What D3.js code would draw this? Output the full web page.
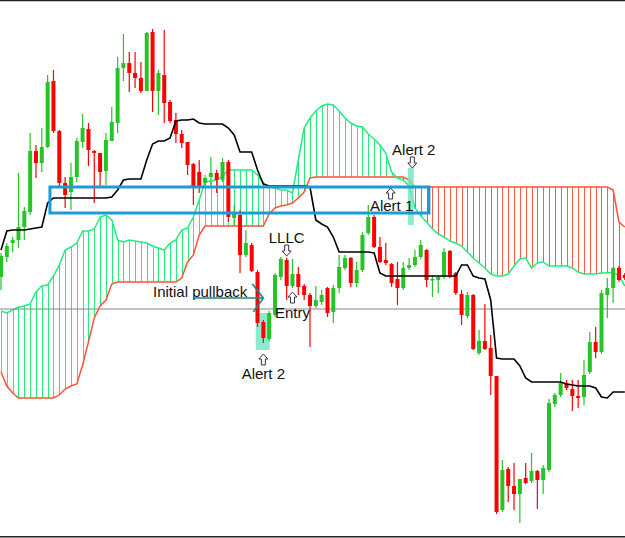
<!DOCTYPE html>
<html>
<head>
<meta charset="utf-8">
<script src="https://cdn.jsdelivr.net/npm/d3@7"></script>
<style>
  body { margin: 0; background: #fff; }
  svg { display: block; }
</style>
</head>
<body>
<div id="myplot"></div>
<script>
// price in points, one entry per bar
var opens = [263,283,297,300,313,328,389,377,393,459, 409,357,348,363,398,411,389,387,369,399,
  417,472,477,467,462,449,508,449,465,438, 420,406,398,376,368,357,363,367,360,378,
  322,325,285,295,268,218,201,225,263,280, 254,266,254,245,234,238,252,228,252,272,
  282,257,270,307,323,293,280,276,261,252, 272,275,283,290,260,260,263,289,267,246,
  224,245,187,199,192,164,30,71,54,46, 62,59,69,60,70,136,145,157,151,144,
  143,168,198,188,245,252,272,265];
var highs = [287,297,303,367,333,407,395,412,465,470, 410,363,377,402,426,417,390,387,407,433,
  483,506,488,488,478,508,511,470,510,440, 427,410,398,377,380,365,383,370,382,380,
  335,330,310,297,270,220,229,267,283,282, 281,273,256,247,254,250,253,255,285,285,
  283,278,308,335,325,303,297,277,278,278, 282,290,300,291,265,264,292,290,268,250,
  248,246,210,236,205,164,80,73,77,61, 77,87,70,75,141,147,167,160,160,160,
  180,208,213,250,262,273,274,267];
var lows = [250,278,288,292,300,325,362,368,392,407, 352,332,330,358,392,374,337,352,355,399,
  407,459,448,452,447,449,428,425,417,417, 397,392,365,335,347,353,355,347,358,318,
  315,267,283,268,213,197,199,223,260,240, 252,245,240,193,232,235,223,217,247,270,
  253,253,268,305,292,277,275,253,235,250, 270,273,281,253,243,247,261,262,245,215,
  222,190,185,190,145,26,28,38,30,17, 56,57,31,46,68,133,143,150,129,132,
  135,166,182,186,222,237,258,260];
var closes = [284,294,300,313,329,389,377,393,458,409, 357,345,363,399,412,390,387,368,400,418,
  472,477,467,462,449,507,449,467,437,419, 406,397,375,353,353,362,367,360,378,323,
  328,285,297,269,217,202,227,265,281,254, 266,253,245,234,240,245,227,252,273,282,
  257,270,305,323,293,278,277,257,252,272, 275,283,295,260,261,263,288,263,247,225,
  245,191,199,191,164,28,70,54,46,61, 57,69,60,72,137,145,157,152,144,142,
  165,198,188,247,252,272,260,262];

var spanA = [229,227,230,233,234,236,248,254,255,264, 275,290,293,297,309,309,311,323,325,320,
  300,298,300,299,298,297,294,292,290,297, 300,310,312,323,340,358,359,360,364,370,
  370,370,370,370,365,357,353,352,350,350, 347,380,412,422,429,434,436,435,429,422,
  417,414,413,406,401,395,387,368,362,360, 354,332,324,318,311,306,303,299,297,294,
  288,282,277,272,266,264,264,266,274,281, 282,272,277,278,274,274,274,274,272,268,
  266,266,266,267,267,268,264,254];
var spanB = [168,154,147,142,142,142,142,142,142,142, 145,151,154,156,175,198,222,234,240,256,
  258,258,258,258,258,258,258,258,258,258, 258,262,278,285,305,314,314,314,314,314,
  314,314,314,314,314,314,326,332,334,335, 337,342,348,362,363,363,363,363,363,363,
  363,363,363,363,363,363,363,363,363,363, 360,353,353,353,353,353,353,353,353,353,
  353,353,353,353,353,353,353,353,353,353, 353,353,353,353,353,353,353,353,353,353,
  353,353,353,353,353,350,318,313];
var kijun = [290,309,310,310,310,311,312,313,337,342, 342,342,342,342,342,342,342,342,342,343,
  350,360,361,361,361,380,396,399,399,402, 419,420,420,421,417,416,416,416,416,412,
  405,388,388,388,370,356,354,354,354,354, 354,354,354,353,320,316,313,303,288,288,
  288,288,288,288,287,267,264,264,264,264, 264,264,264,264,264,264,264,264,264,275,
  275,264,262,261,240,182,181,181,181,174, 162,158,158,158,158,158,158,156,155,154,
  154,154,152,143,142,148,148,148];

var level = 231;
// zone: bars 8.4 - 73.4, price 327 - 353
var zone = [8.4, 73.4, 327, 353];
// highlighted bars [from, to, low, high]
var marks = [[43.7, 46.1, 190, 227], [69.8, 70.8, 315, 372]];

var W = 625, H = 538;
var svg = d3.select('div#myplot')
  .append('svg')
  .attr('width', W)
  .attr('height', H);

var x = d3.scaleLinear().domain([0, 107]).range([1, 624.8]);
var y = d3.scaleLinear().domain([0, 540]).range([540, 0]);

// frame
svg.append("line").attr("x1", 0).attr("x2", W).attr("y1", 0.5).attr("y2", 0.5)
  .attr("stroke", "#222").attr("stroke-width", 1.5);
svg.append("line").attr("x1", 0).attr("x2", W).attr("y1", 536.8).attr("y2", 536.8)
  .attr("stroke", "#222").attr("stroke-width", 1.5);

// cloud hatch
svg.append("g").attr("id", "hatch")
  .selectAll("line")
  .data(spanA)
  .enter()
  .append("line")
  .attr("x1", (d, i) => Math.round(x(i)) + 0.5).attr("x2", (d, i) => Math.round(x(i)) + 0.5)
  .attr("y1", d => y(d))
  .attr("y2", (d, i) => y(spanB[i]))
  .attr("stroke", (d, i) => d >= spanB[i] ? "#27ec7c" : "#ff5a40")
  .attr("stroke-width", 1);

var line = d3.line().x((d, i) => x(i)).y(d => y(d));

svg.append("path").datum(spanB)
  .attr("d", line).attr("fill", "none")
  .attr("stroke", "#ff5236").attr("stroke-width", 1.5);
svg.append("path").datum(spanA)
  .attr("d", line).attr("fill", "none")
  .attr("stroke", "#22ec7e").attr("stroke-width", 1.5);

// highlights
svg.append("g").selectAll("rect")
  .data(marks)
  .enter()
  .append("rect")
  .attr("x", d => x(d[0]))
  .attr("y", d => y(d[3]))
  .attr("width", d => x(d[1]) - x(d[0]))
  .attr("height", d => y(d[2]) - y(d[3]))
  .attr("fill", "#6fe6c2")
  .attr("opacity", 0.8);

// level line
svg.append("line")
  .attr("x1", 0).attr("x2", W)
  .attr("y1", y(level)).attr("y2", y(level))
  .attr("stroke", "#7d8a92").attr("stroke-width", 1);

// candles
var bars = svg.append("g").attr("id", "candles")
  .selectAll("g")
  .data(opens)
  .enter()
  .append("g");

bars.append("line")
  .attr("x1", (d, i) => x(i)).attr("x2", (d, i) => x(i))
  .attr("y1", (d, i) => y(highs[i]))
  .attr("y2", (d, i) => y(lows[i]))
  .attr("stroke", (d, i) => closes[i] >= d ? "#26c426" : "#ff0000")
  .attr("stroke-width", 1.2);

bars.append("rect")
  .attr("x", (d, i) => x(i) - 2)
  .attr("width", 4)
  .attr("y", (d, i) => y(Math.max(d, closes[i])))
  .attr("height", (d, i) => Math.max(1.5, Math.abs(y(d) - y(closes[i]))))
  .attr("fill", (d, i) => closes[i] >= d ? "#26c426" : "#ff0000");

// kijun
svg.append("path").datum(kijun)
  .attr("d", line).attr("fill", "none")
  .attr("stroke", "#000").attr("stroke-width", 1.6);

// zone box
svg.append("rect")
  .attr("x", x(zone[0])).attr("y", y(zone[3]))
  .attr("width", x(zone[1]) - x(zone[0]))
  .attr("height", y(zone[2]) - y(zone[3]))
  .attr("fill", "none")
  .attr("stroke", "#1c9ad8")
  .attr("stroke-width", 3);

// annotations
function arrow(cx, top, down) {
  var p = down
    ? [[cx - 2, top], [cx + 2, top], [cx + 2, top + 6], [cx + 4.5, top + 6], [cx, top + 11], [cx - 4.5, top + 6], [cx - 2, top + 6]]
    : [[cx, top], [cx + 4.5, top + 5], [cx + 2, top + 5], [cx + 2, top + 11], [cx - 2, top + 11], [cx - 2, top + 5], [cx - 4.5, top + 5]];
  svg.append("path")
    .attr("d", "M" + p.join("L") + "Z")
    .attr("fill", "#fff")
    .attr("stroke", "#3a2f45")
    .attr("stroke-width", 1);
}

var notes = [
  {t: "Alert 2", i: 70.8, v: 385},
  {t: "Alert 1", i: 67, v: 329},
  {t: "LLLC", i: 49, v: 297},
  {t: "Entry", i: 50, v: 222},
  {t: "Alert 2", i: 45, v: 161}
];
svg.append("g").selectAll("text")
  .data(notes)
  .enter()
  .append("text")
  .attr("x", d => x(d.i))
  .attr("y", d => y(d.v))
  .attr("text-anchor", "middle")
  .attr("font-family", "Liberation Sans, Arial, sans-serif")
  .attr("font-size", "15")
  .attr("fill", "#111")
  .text(d => d.t);

arrow(x(70.3) + 1.5, y(383), true);
arrow(x(67) - 1, y(352), false);
arrow(x(49), y(295), true);
arrow(x(50), y(248), false);
arrow(x(45), y(186), false);

svg.append("text")
  .attr("x", 153).attr("y", y(243))
  .attr("font-family", "Liberation Sans, Arial, sans-serif")
  .attr("font-size", "15")
  .attr("fill", "#111")
  .text("Initial pullback");

svg.append("path")
  .attr("d", "M" + 193 + "," + y(242) + "H" + x(45) +
    "M" + (x(45) - 11) + "," + (y(242) - 14) + "L" + x(45) + "," + y(242) + "L" + (x(45) - 10) + "," + (y(242) + 14))
  .attr("fill", "none")
  .attr("stroke", "#23808f")
  .attr("stroke-width", 1.6);
</script>
</body>
</html>
